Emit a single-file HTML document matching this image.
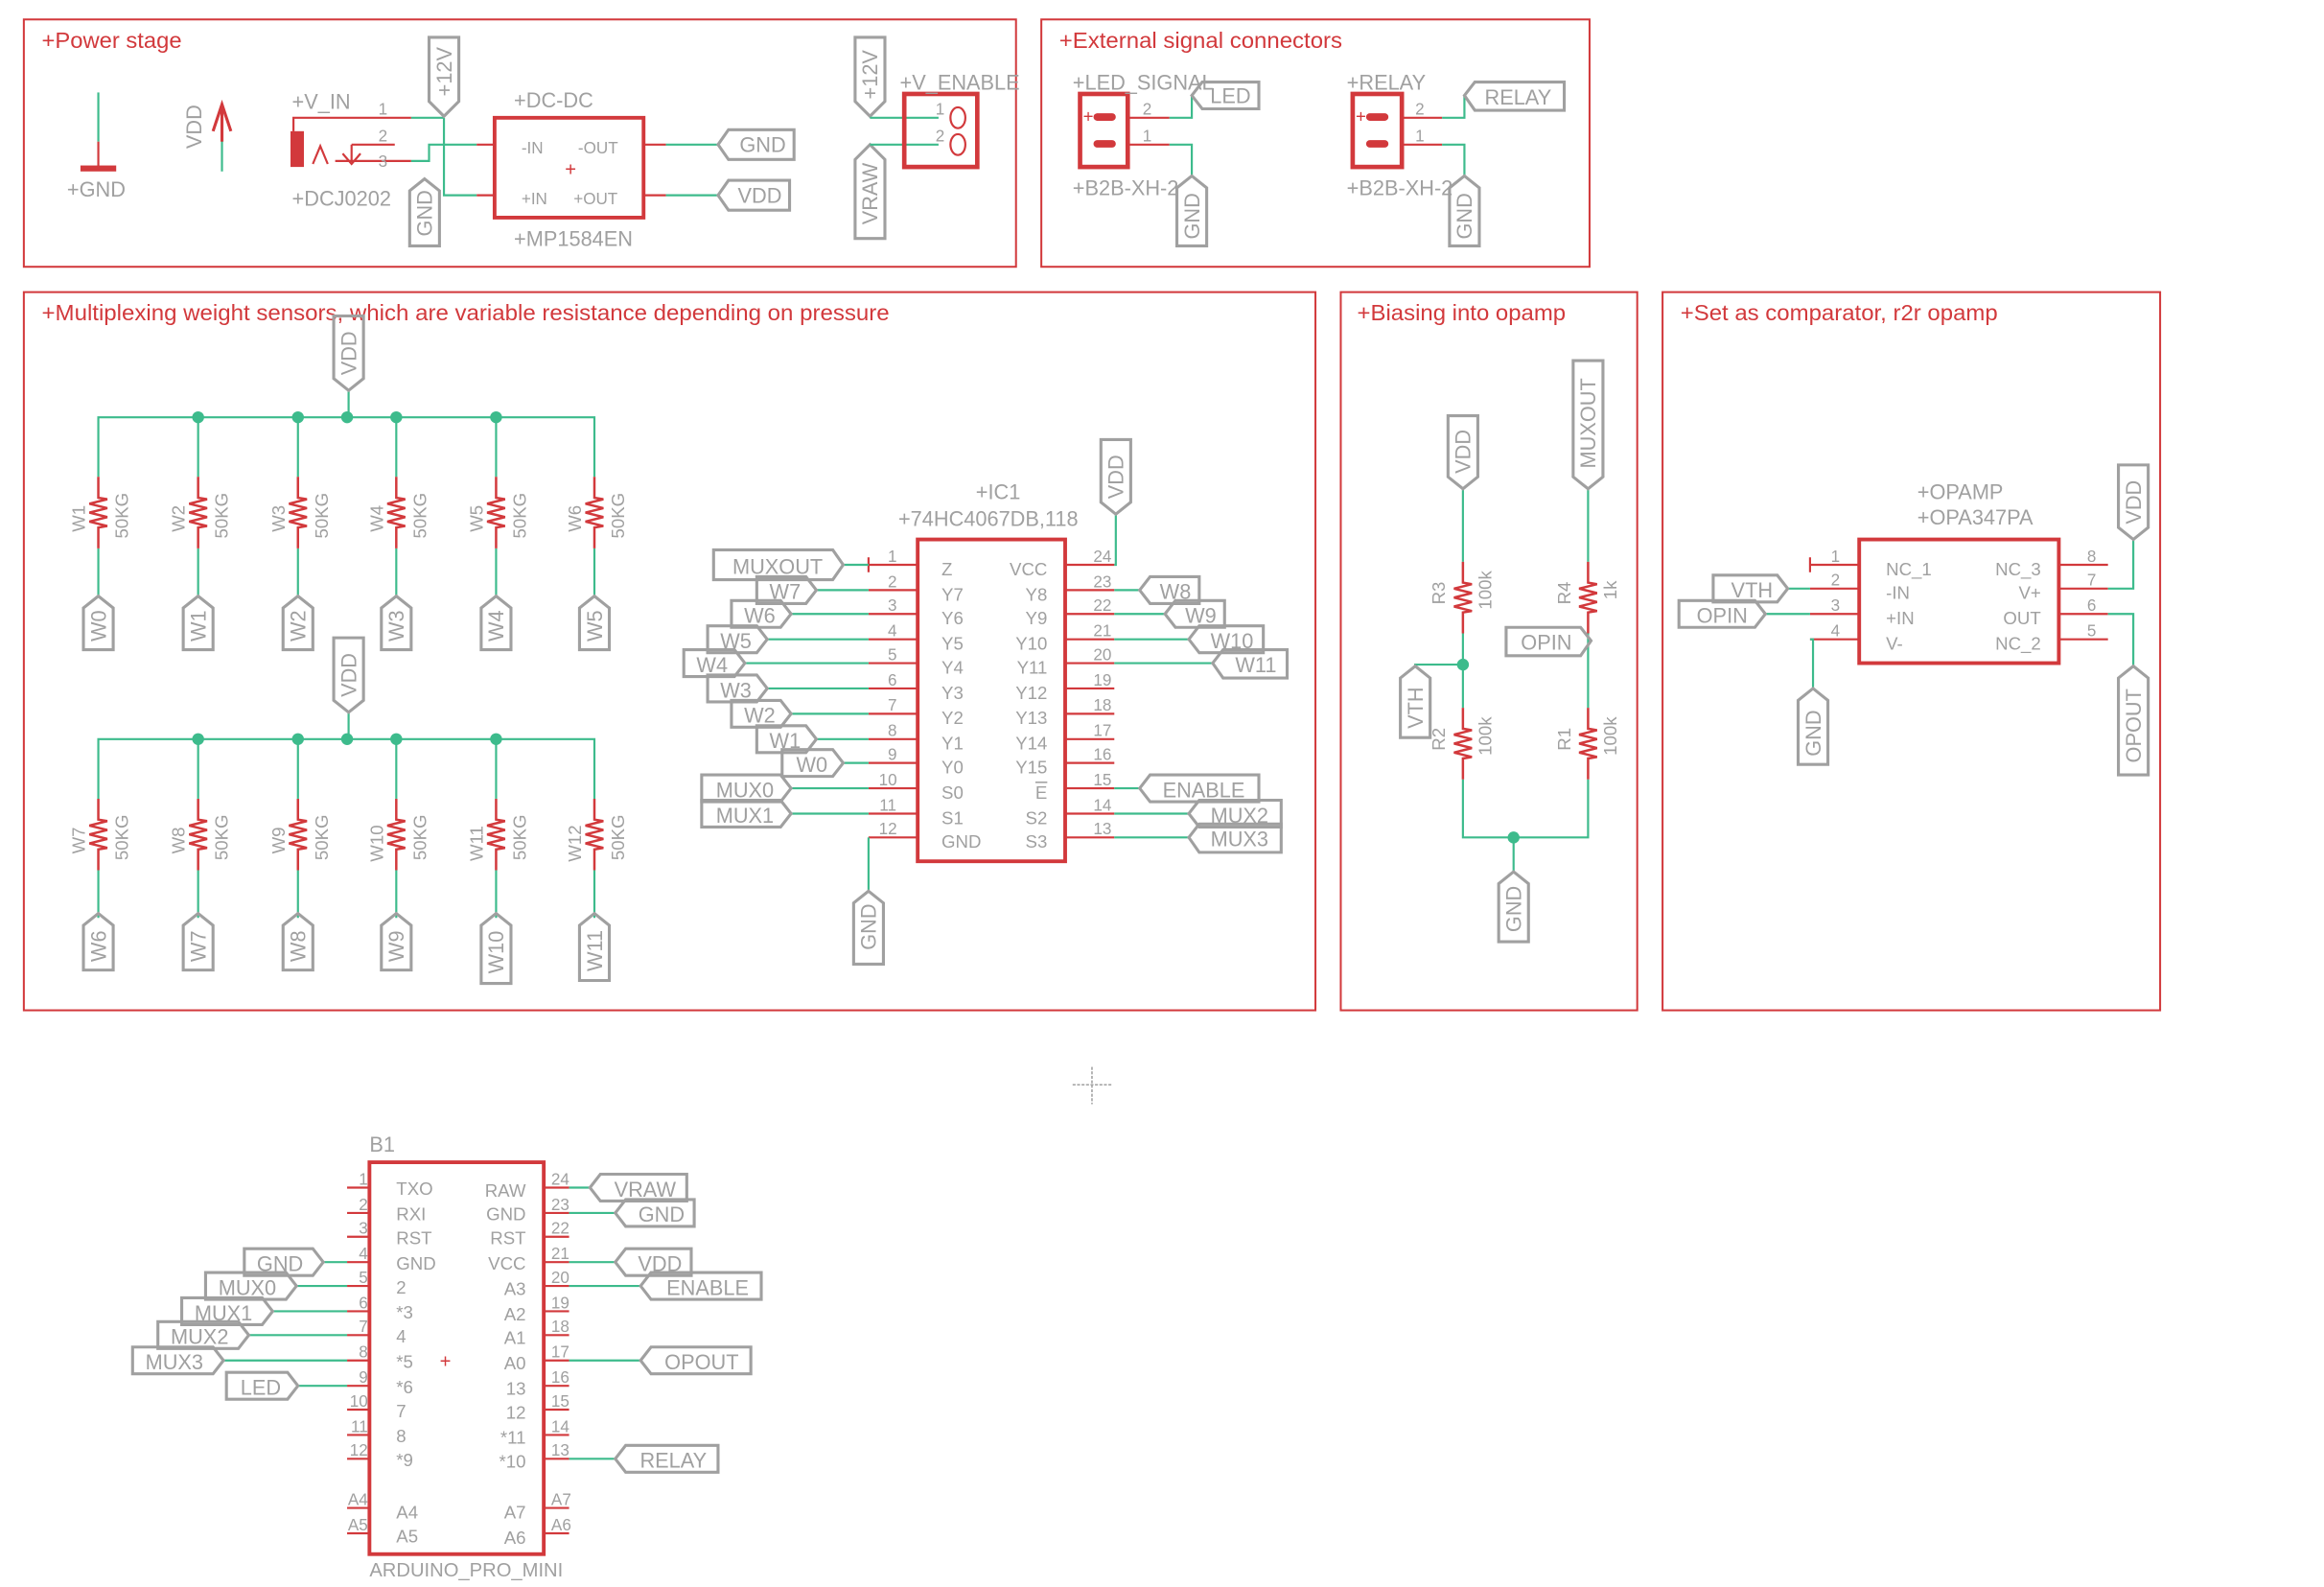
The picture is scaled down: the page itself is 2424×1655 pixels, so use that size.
<!DOCTYPE html>
<html><head><meta charset="utf-8"><style>
html,body{margin:0;padding:0;background:#fff}
svg{display:block}
text{font-family:"Liberation Sans Narrow","Liberation Sans",sans-serif}
.g{fill:#a0a0a0}
.r{fill:#d2393c}
</style></head><body>
<svg width="2424" height="1655" viewBox="0 0 1560 1065" xmlns="http://www.w3.org/2000/svg">
<defs>
<g id="rz"><polyline points="0,-24 0,-10 6,-9 -6,-6 6,-3 -6,0 6,3 -6,6 6,9 0,10 0,24" fill="none" stroke="#d2393c" stroke-width="1.6"/></g>
</defs>
<rect width="1560" height="1065" fill="#fff"/>
<g fill="none" stroke="#d2393c" stroke-width="1.3">
<rect x="16" y="13" width="666" height="166"/>
<rect x="699" y="13" width="368" height="166"/>
<rect x="16" y="196" width="867" height="482"/>
<rect x="900" y="196" width="199" height="482"/>
<rect x="1116" y="196" width="334" height="482"/>
</g>
<g class="r" font-size="15">
<text x="28" y="32" textLength="94" lengthAdjust="spacingAndGlyphs">+Power stage</text>
<text x="711" y="32" textLength="190" lengthAdjust="spacingAndGlyphs">+External signal connectors</text>
<text x="28" y="215" textLength="569" lengthAdjust="spacingAndGlyphs">+Multiplexing weight sensors, which are variable resistance depending on pressure</text>
<text x="911" y="215" textLength="140" lengthAdjust="spacingAndGlyphs">+Biasing into opamp</text>
<text x="1128" y="215" textLength="213" lengthAdjust="spacingAndGlyphs">+Set as comparator, r2r opamp</text>
</g>

<g stroke-width="1.4" fill="none">
<line x1="66" y1="62" x2="66" y2="95" stroke="#3dbb8c"/>
<line x1="66" y1="95" x2="66" y2="113" stroke="#d2393c"/>
<line x1="149" y1="90" x2="149" y2="115" stroke="#3dbb8c"/>
<polyline points="143,88 149,70 155,88" stroke="#d2393c" stroke-width="2"/>
<line x1="149" y1="70" x2="149" y2="95" stroke="#d2393c" stroke-width="2"/>
</g>
<rect x="54" y="111" width="24" height="4" fill="#d2393c"/>
<text x="45" y="132" class="g" font-size="14">+GND</text>
<text transform="translate(135,85) rotate(-90)" class="g" font-size="14" text-anchor="middle">VDD</text>

<rect x="195" y="88" width="9" height="24" fill="#d2393c"/>
<g fill="none" stroke-width="1.4">
<polyline points="197,88 197,79 276,79" stroke="#d2393c"/>
<line x1="276" y1="79" x2="298" y2="79" stroke="#3dbb8c"/>
<line x1="236" y1="97" x2="265" y2="97" stroke="#d2393c"/>
<polyline points="236,97 236,108" stroke="#d2393c"/>
<polyline points="230,103 236,110 242,103" stroke="#d2393c"/>
<polyline points="210,110 215,98 220,110" stroke="#d2393c"/>
<line x1="225" y1="108" x2="276" y2="108" stroke="#d2393c"/>
<polyline points="276,108 288,108 288,97 320,97" stroke="#3dbb8c"/>
<line x1="320" y1="97" x2="332" y2="97" stroke="#d2393c"/>
<polyline points="298,79 298,131 320,131" stroke="#3dbb8c"/>
<line x1="320" y1="131" x2="332" y2="131" stroke="#d2393c"/>
<line x1="432" y1="97" x2="447" y2="97" stroke="#d2393c"/>
<line x1="447" y1="97" x2="482" y2="97" stroke="#3dbb8c"/>
<line x1="432" y1="131" x2="447" y2="131" stroke="#d2393c"/>
<line x1="447" y1="131" x2="482" y2="131" stroke="#3dbb8c"/>
</g>
<g class="g" font-size="11"><text x="254" y="77">1</text><text x="254" y="95">2</text><text x="254" y="112">3</text></g>
<text x="196" y="73" class="g" font-size="14">+V_IN</text>
<text x="196" y="138" class="g" font-size="14">+DCJ0202</text>
<g fill="none" stroke="#a0a0a0" stroke-width="2">
<polygon points="298,78 308,68 308,25 288,25 288,68"/>
<polygon points="285,120 295,128 295,165 275,165 275,128"/>
<polygon points="482,97 489,87 533,87 533,107 489,107"/>
<polygon points="482,131 489,121 530,121 530,141 489,141"/>
<polygon points="584,78 594,68 594,25 574,25 574,68"/>
<polygon points="584,97 594,107 594,160 574,160 574,107"/>
</g>
<g class="g" font-size="14" text-anchor="middle">
<text transform="translate(303,48) rotate(-90)">+12V</text>
<text transform="translate(290,143) rotate(-90)">GND</text>
<text x="512" y="102">GND</text>
<text x="510" y="136">VDD</text>
<text transform="translate(589,50) rotate(-90)">+12V</text>
<text transform="translate(589,130) rotate(-90)">VRAW</text>
</g>
<rect x="332" y="79" width="100" height="67" fill="none" stroke="#d2393c" stroke-width="2.5"/>
<g class="g" font-size="11"><text x="350" y="103">-IN</text><text x="388" y="103">-OUT</text><text x="350" y="137">+IN</text><text x="385" y="137">+OUT</text></g>
<text x="383" y="118" class="r" font-size="13" text-anchor="middle">+</text>
<text x="345" y="72" class="g" font-size="14">+DC-DC</text>
<text x="345" y="165" class="g" font-size="14">+MP1584EN</text>
<g fill="none" stroke-width="1.4">
<line x1="584" y1="79" x2="630" y2="79" stroke="#3dbb8c"/>
<line x1="584" y1="97" x2="630" y2="97" stroke="#3dbb8c"/>
<rect x="607" y="63" width="49" height="49" stroke="#d2393c" stroke-width="3"/>
<ellipse cx="643" cy="79" rx="5" ry="7" stroke="#d2393c"/>
<ellipse cx="643" cy="97" rx="5" ry="7" stroke="#d2393c"/>
</g>
<g class="g" font-size="11"><text x="628" y="77">1</text><text x="628" y="95">2</text></g>
<text x="604" y="60" class="g" font-size="14">+V_ENABLE</text>

<g fill="none" stroke-width="1.4">
<rect x="725" y="63" width="32" height="49" stroke="#d2393c" stroke-width="3"/>
<line x1="757" y1="79" x2="785" y2="79" stroke="#d2393c"/>
<line x1="757" y1="97" x2="785" y2="97" stroke="#d2393c"/>
<polyline points="785,79 800,79 800,64" stroke="#3dbb8c"/>
<polyline points="785,97 800,97 800,118" stroke="#3dbb8c"/>
<rect x="908" y="63" width="33" height="49" stroke="#d2393c" stroke-width="3"/>
<line x1="941" y1="79" x2="968" y2="79" stroke="#d2393c"/>
<line x1="941" y1="97" x2="968" y2="97" stroke="#d2393c"/>
<polyline points="968,79 983,79 983,64" stroke="#3dbb8c"/>
<polyline points="968,97 983,97 983,118" stroke="#3dbb8c"/>
</g>
<g fill="#d2393c">
<rect x="734" y="76" width="15" height="5" rx="2.5"/><rect x="734" y="94" width="15" height="5" rx="2.5"/>
<rect x="917" y="76" width="15" height="5" rx="2.5"/><rect x="917" y="94" width="15" height="5" rx="2.5"/>
</g>
<g class="r" font-size="12"><text x="727" y="82">+</text><text x="910" y="82">+</text></g>
<g class="g" font-size="11"><text x="767" y="77">2</text><text x="767" y="95">1</text><text x="950" y="77">2</text><text x="950" y="95">1</text></g>
<g class="g" font-size="14">
<text x="720" y="60">+LED_SIGNAL</text><text x="720" y="131">+B2B-XH-2</text>
<text x="904" y="60">+RELAY</text><text x="904" y="131">+B2B-XH-2</text>
</g>
<g fill="none" stroke="#a0a0a0" stroke-width="2">
<polygon points="800,64 807,55 845,55 845,73 807,73"/>
<polygon points="800,118 810,126 810,165 790,165 790,126"/>
<polygon points="983,64 990,55 1050,55 1050,74 990,74"/>
<polygon points="983,118 993,126 993,165 973,165 973,126"/>
</g>
<g class="g" font-size="14" text-anchor="middle">
<text x="826" y="69">LED</text>
<text transform="translate(805,145) rotate(-90)">GND</text>
<text x="1019" y="70">RELAY</text>
<text transform="translate(988,145) rotate(-90)">GND</text>
</g>

<g fill="none" stroke="#3dbb8c" stroke-width="1.4">
<polyline points="66,320 66,280 399,280 399,320"/>
<line x1="234" y1="262" x2="234" y2="280"/>
<line x1="133" y1="280" x2="133" y2="320"/><line x1="200" y1="280" x2="200" y2="320"/><line x1="266" y1="280" x2="266" y2="320"/><line x1="333" y1="280" x2="333" y2="320"/>
<line x1="66" y1="368" x2="66" y2="400"/><line x1="133" y1="368" x2="133" y2="400"/><line x1="200" y1="368" x2="200" y2="400"/><line x1="266" y1="368" x2="266" y2="400"/><line x1="333" y1="368" x2="333" y2="400"/><line x1="399" y1="368" x2="399" y2="400"/>
<polyline points="66,536 66,496 399,496 399,536"/>
<line x1="234" y1="478" x2="234" y2="496"/>
<line x1="133" y1="496" x2="133" y2="536"/><line x1="200" y1="496" x2="200" y2="536"/><line x1="266" y1="496" x2="266" y2="536"/><line x1="333" y1="496" x2="333" y2="536"/>
<line x1="66" y1="584" x2="66" y2="616"/><line x1="133" y1="584" x2="133" y2="616"/><line x1="200" y1="584" x2="200" y2="616"/><line x1="266" y1="584" x2="266" y2="616"/><line x1="333" y1="584" x2="333" y2="616"/><line x1="399" y1="584" x2="399" y2="616"/>
</g>
<g fill="#3dbb8c">
<circle cx="133" cy="280" r="4"/><circle cx="200" cy="280" r="4"/><circle cx="233" cy="280" r="4"/><circle cx="266" cy="280" r="4"/><circle cx="333" cy="280" r="4"/>
<circle cx="133" cy="496" r="4"/><circle cx="200" cy="496" r="4"/><circle cx="233" cy="496" r="4"/><circle cx="266" cy="496" r="4"/><circle cx="333" cy="496" r="4"/>
</g>
<use href="#rz" x="66" y="344"/><use href="#rz" x="133" y="344"/><use href="#rz" x="200" y="344"/><use href="#rz" x="266" y="344"/><use href="#rz" x="333" y="344"/><use href="#rz" x="399" y="344"/>
<use href="#rz" x="66" y="560"/><use href="#rz" x="133" y="560"/><use href="#rz" x="200" y="560"/><use href="#rz" x="266" y="560"/><use href="#rz" x="333" y="560"/><use href="#rz" x="399" y="560"/>
<g class="g" font-size="12" text-anchor="middle">
<text transform="translate(57,348) rotate(-90)">W1</text><text transform="translate(86,346) rotate(-90)">50KG</text>
<text transform="translate(124,348) rotate(-90)">W2</text><text transform="translate(153,346) rotate(-90)">50KG</text>
<text transform="translate(191,348) rotate(-90)">W3</text><text transform="translate(220,346) rotate(-90)">50KG</text>
<text transform="translate(257,348) rotate(-90)">W4</text><text transform="translate(286,346) rotate(-90)">50KG</text>
<text transform="translate(324,348) rotate(-90)">W5</text><text transform="translate(353,346) rotate(-90)">50KG</text>
<text transform="translate(390,348) rotate(-90)">W6</text><text transform="translate(419,346) rotate(-90)">50KG</text>
<text transform="translate(57,564) rotate(-90)">W7</text><text transform="translate(86,562) rotate(-90)">50KG</text>
<text transform="translate(124,564) rotate(-90)">W8</text><text transform="translate(153,562) rotate(-90)">50KG</text>
<text transform="translate(191,564) rotate(-90)">W9</text><text transform="translate(220,562) rotate(-90)">50KG</text>
<text transform="translate(257,566) rotate(-90)">W10</text><text transform="translate(286,562) rotate(-90)">50KG</text>
<text transform="translate(324,566) rotate(-90)">W11</text><text transform="translate(353,562) rotate(-90)">50KG</text>
<text transform="translate(390,566) rotate(-90)">W12</text><text transform="translate(419,562) rotate(-90)">50KG</text>
</g>
<g fill="none" stroke="#a0a0a0" stroke-width="2">
<polygon points="234,262 244,254 244,212 224,212 224,254"/>
<polygon points="234,478 244,470 244,428 224,428 224,470"/>
<polygon points="66,400 76,408 76,436 56,436 56,408"/><polygon points="133,400 143,408 143,436 123,436 123,408"/><polygon points="200,400 210,408 210,436 190,436 190,408"/><polygon points="266,400 276,408 276,436 256,436 256,408"/><polygon points="333,400 343,408 343,436 323,436 323,408"/><polygon points="399,400 409,408 409,436 389,436 389,408"/>
<polygon points="66,613 76,621 76,651 56,651 56,621"/><polygon points="133,613 143,621 143,651 123,651 123,621"/><polygon points="200,613 210,621 210,651 190,651 190,621"/><polygon points="266,613 276,621 276,651 256,651 256,621"/><polygon points="333,613 343,621 343,660 323,660 323,621"/><polygon points="399,613 409,621 409,658 389,658 389,621"/>
</g>
<g class="g" font-size="14" text-anchor="middle">
<text transform="translate(239,237) rotate(-90)">VDD</text>
<text transform="translate(239,453) rotate(-90)">VDD</text>
<text transform="translate(71,420) rotate(-90)">W0</text><text transform="translate(138,420) rotate(-90)">W1</text><text transform="translate(205,420) rotate(-90)">W2</text><text transform="translate(271,420) rotate(-90)">W3</text><text transform="translate(338,420) rotate(-90)">W4</text><text transform="translate(404,420) rotate(-90)">W5</text>
<text transform="translate(71,635) rotate(-90)">W6</text><text transform="translate(138,635) rotate(-90)">W7</text><text transform="translate(205,635) rotate(-90)">W8</text><text transform="translate(271,635) rotate(-90)">W9</text><text transform="translate(338,639) rotate(-90)">W10</text><text transform="translate(404,638) rotate(-90)">W11</text>
</g>

<rect x="616" y="362" width="99" height="216" fill="none" stroke="#d2393c" stroke-width="2.5"/>
<g stroke="#d2393c" stroke-width="1.4">
<line x1="583" y1="379" x2="616" y2="379"/><line x1="583" y1="396" x2="616" y2="396"/><line x1="583" y1="412" x2="616" y2="412"/><line x1="583" y1="429" x2="616" y2="429"/><line x1="583" y1="445" x2="616" y2="445"/><line x1="583" y1="462" x2="616" y2="462"/><line x1="583" y1="479" x2="616" y2="479"/><line x1="583" y1="496" x2="616" y2="496"/><line x1="583" y1="512" x2="616" y2="512"/><line x1="583" y1="529" x2="616" y2="529"/><line x1="583" y1="546" x2="616" y2="546"/><line x1="583" y1="562" x2="616" y2="562"/>
<line x1="715" y1="379" x2="748" y2="379"/><line x1="715" y1="396" x2="748" y2="396"/><line x1="715" y1="412" x2="748" y2="412"/><line x1="715" y1="429" x2="748" y2="429"/><line x1="715" y1="445" x2="748" y2="445"/><line x1="715" y1="462" x2="748" y2="462"/><line x1="715" y1="479" x2="748" y2="479"/><line x1="715" y1="496" x2="748" y2="496"/><line x1="715" y1="512" x2="748" y2="512"/><line x1="715" y1="529" x2="748" y2="529"/><line x1="715" y1="546" x2="748" y2="546"/><line x1="715" y1="562" x2="748" y2="562"/>
<line x1="583" y1="374" x2="583" y2="384"/>
</g>
<g fill="none" stroke="#3dbb8c" stroke-width="1.4">
<line x1="566" y1="379" x2="583" y2="379"/>
<line x1="548" y1="396" x2="583" y2="396"/><line x1="531" y1="412" x2="583" y2="412"/><line x1="515" y1="429" x2="583" y2="429"/><line x1="500" y1="445" x2="583" y2="445"/><line x1="515" y1="462" x2="583" y2="462"/><line x1="531" y1="479" x2="583" y2="479"/><line x1="548" y1="496" x2="583" y2="496"/><line x1="566" y1="512" x2="583" y2="512"/><line x1="531" y1="529" x2="583" y2="529"/><line x1="531" y1="546" x2="583" y2="546"/>
<polyline points="583,562 583,598"/>
<polyline points="749,345 749,379 748,379"/>
<line x1="748" y1="396" x2="765" y2="396"/><line x1="748" y1="412" x2="782" y2="412"/><line x1="748" y1="429" x2="798" y2="429"/><line x1="748" y1="445" x2="814" y2="445"/><line x1="748" y1="529" x2="765" y2="529"/><line x1="748" y1="546" x2="798" y2="546"/><line x1="748" y1="562" x2="798" y2="562"/>
</g>
<g class="g" font-size="11" text-anchor="middle">
<text x="599" y="377">1</text><text x="599" y="394">2</text><text x="599" y="410">3</text><text x="599" y="427">4</text><text x="599" y="443">5</text><text x="599" y="460">6</text><text x="599" y="477">7</text><text x="599" y="494">8</text><text x="599" y="510">9</text><text x="596" y="527">10</text><text x="596" y="544">11</text><text x="596" y="560">12</text>
<text x="740" y="377">24</text><text x="740" y="394">23</text><text x="740" y="410">22</text><text x="740" y="427">21</text><text x="740" y="443">20</text><text x="740" y="460">19</text><text x="740" y="477">18</text><text x="740" y="494">17</text><text x="740" y="510">16</text><text x="740" y="527">15</text><text x="740" y="544">14</text><text x="740" y="560">13</text>
</g>
<g class="g" font-size="12">
<text x="632" y="386">Z</text><text x="632" y="403">Y7</text><text x="632" y="419">Y6</text><text x="632" y="436">Y5</text><text x="632" y="452">Y4</text><text x="632" y="469">Y3</text><text x="632" y="486">Y2</text><text x="632" y="503">Y1</text><text x="632" y="519">Y0</text><text x="632" y="536">S0</text><text x="632" y="553">S1</text><text x="632" y="569">GND</text>
</g>
<g class="g" font-size="12" text-anchor="end">
<text x="703" y="386">VCC</text><text x="703" y="403">Y8</text><text x="703" y="419">Y9</text><text x="703" y="436">Y10</text><text x="703" y="452">Y11</text><text x="703" y="469">Y12</text><text x="703" y="486">Y13</text><text x="703" y="503">Y14</text><text x="703" y="519">Y15</text><text x="703" y="536">E</text><text x="703" y="553">S2</text><text x="703" y="569">S3</text>
</g>
<line x1="695" y1="525" x2="703" y2="525" stroke="#a0a0a0" stroke-width="1"/>
<text x="655" y="335" class="g" font-size="14">+IC1</text>
<text x="603" y="353" class="g" font-size="14">+74HC4067DB,118</text>
<g fill="none" stroke="#a0a0a0" stroke-width="2">
<polygon points="566,379 559,369 479,369 479,389 559,389"/>
<polygon points="548,396 541,387 508,387 508,405 541,405"/>
<polygon points="531,412 524,403 491,403 491,421 524,421"/>
<polygon points="515,429 508,420 475,420 475,438 508,438"/>
<polygon points="500,445 493,436 459,436 459,454 493,454"/>
<polygon points="515,462 508,453 475,453 475,471 508,471"/>
<polygon points="531,479 524,470 491,470 491,488 524,488"/>
<polygon points="548,496 541,487 508,487 508,505 541,505"/>
<polygon points="566,512 559,503 525,503 525,521 559,521"/>
<polygon points="531,529 524,520 471,520 471,538 524,538"/>
<polygon points="531,546 524,537 471,537 471,555 524,555"/>
<polygon points="749,345 759,337 759,295 739,295 739,337"/>
<polygon points="583,598 593,606 593,647 573,647 573,606"/>
<polygon points="765,396 772,387 805,387 805,405 772,405"/>
<polygon points="782,412 789,403 822,403 822,421 789,421"/>
<polygon points="798,429 805,420 848,420 848,438 805,438"/>
<polygon points="814,445 821,436 864,436 864,455 821,455"/>
<polygon points="765,529 772,520 845,520 845,538 772,538"/>
<polygon points="798,546 805,537 860,537 860,555 805,555"/>
<polygon points="798,562 805,553 860,553 860,572 805,572"/>
</g>
<g class="g" font-size="14" text-anchor="middle">
<text x="522" y="385">MUXOUT</text><text x="527" y="402">W7</text><text x="510" y="418">W6</text><text x="494" y="435">W5</text><text x="478" y="451">W4</text><text x="494" y="468">W3</text><text x="510" y="485">W2</text><text x="527" y="502">W1</text><text x="545" y="518">W0</text><text x="500" y="535">MUX0</text><text x="500" y="552">MUX1</text>
<text transform="translate(754,320) rotate(-90)">VDD</text>
<text transform="translate(588,622) rotate(-90)">GND</text>
<text x="789" y="402">W8</text><text x="806" y="418">W9</text><text x="827" y="435">W10</text><text x="843" y="451">W11</text><text x="808" y="535">ENABLE</text><text x="832" y="552">MUX2</text><text x="832" y="568">MUX3</text>
</g>

<g fill="none" stroke="#3dbb8c" stroke-width="1.4">
<line x1="982" y1="328" x2="982" y2="377"/>
<line x1="982" y1="425" x2="982" y2="475"/>
<polyline points="982,523 982,562 1066,562 1066,523"/>
<line x1="1066" y1="328" x2="1066" y2="377"/>
<line x1="1066" y1="425" x2="1066" y2="475"/>
<polyline points="950,447 950,446 982,446"/>
<line x1="1016" y1="562" x2="1016" y2="585"/>
</g>
<g fill="#3dbb8c"><circle cx="982" cy="446" r="4"/><circle cx="1016" cy="562" r="4"/></g>
<use href="#rz" x="982" y="401"/><use href="#rz" x="982" y="499"/><use href="#rz" x="1066" y="401"/><use href="#rz" x="1066" y="499"/>
<g class="g" font-size="12" text-anchor="middle">
<text transform="translate(970,398) rotate(-90)">R3</text><text transform="translate(1001,396) rotate(-90)">100k</text>
<text transform="translate(970,496) rotate(-90)">R2</text><text transform="translate(1001,494) rotate(-90)">100k</text>
<text transform="translate(1054,398) rotate(-90)">R4</text><text transform="translate(1085,396) rotate(-90)">1k</text>
<text transform="translate(1054,496) rotate(-90)">R1</text><text transform="translate(1085,494) rotate(-90)">100k</text>
</g>
<g fill="none" stroke="#a0a0a0" stroke-width="2">
<polygon points="982,328 992,320 992,279 972,279 972,320"/>
<polygon points="1066,328 1076,320 1076,242 1056,242 1056,320"/>
<polygon points="1068,430 1061,421 1011,421 1011,440 1061,440"/>
<polygon points="950,447 960,455 960,495 940,495 940,455"/>
<polygon points="1016,585 1026,593 1026,632 1006,632 1006,593"/>
</g>
<g class="g" font-size="14" text-anchor="middle">
<text transform="translate(987,303) rotate(-90)">VDD</text>
<text transform="translate(1071,284) rotate(-90)">MUXOUT</text>
<text x="1038" y="436">OPIN</text>
<text transform="translate(955,475) rotate(-90)">VTH</text>
<text transform="translate(1021,610) rotate(-90)">GND</text>
</g>

<rect x="1248" y="362" width="134" height="83" fill="none" stroke="#d2393c" stroke-width="2.5"/>
<g stroke="#d2393c" stroke-width="1.4">
<line x1="1215" y1="379" x2="1248" y2="379"/><line x1="1215" y1="395" x2="1248" y2="395"/><line x1="1215" y1="412" x2="1248" y2="412"/><line x1="1215" y1="429" x2="1248" y2="429"/>
<line x1="1382" y1="379" x2="1415" y2="379"/><line x1="1382" y1="395" x2="1415" y2="395"/><line x1="1382" y1="412" x2="1415" y2="412"/><line x1="1382" y1="429" x2="1415" y2="429"/>
<line x1="1215" y1="374" x2="1215" y2="384"/>
</g>
<g fill="none" stroke="#3dbb8c" stroke-width="1.4">
<line x1="1200" y1="395" x2="1215" y2="395"/>
<line x1="1185" y1="412" x2="1215" y2="412"/>
<polyline points="1215,429 1217,429 1217,462"/>
<polyline points="1415,395 1432,395 1432,362"/>
<polyline points="1415,412 1432,412 1432,447"/>
</g>
<g class="g" font-size="11" text-anchor="middle">
<text x="1232" y="377">1</text><text x="1232" y="393">2</text><text x="1232" y="410">3</text><text x="1232" y="427">4</text>
<text x="1404" y="377">8</text><text x="1404" y="393">7</text><text x="1404" y="410">6</text><text x="1404" y="427">5</text>
</g>
<g class="g" font-size="12">
<text x="1266" y="386">NC_1</text><text x="1266" y="402">-IN</text><text x="1266" y="419">+IN</text><text x="1266" y="436">V-</text>
</g>
<g class="g" font-size="12" text-anchor="end">
<text x="1370" y="386">NC_3</text><text x="1370" y="402">V+</text><text x="1370" y="419">OUT</text><text x="1370" y="436">NC_2</text>
</g>
<text x="1287" y="335" class="g" font-size="14">+OPAMP</text>
<text x="1287" y="352" class="g" font-size="14">+OPA347PA</text>
<g fill="none" stroke="#a0a0a0" stroke-width="2">
<polygon points="1200,395 1193,386 1150,386 1150,404 1193,404"/>
<polygon points="1185,412 1178,403 1127,403 1127,421 1178,421"/>
<polygon points="1217,462 1227,470 1227,513 1207,513 1207,470"/>
<polygon points="1432,362 1442,354 1442,312 1422,312 1422,354"/>
<polygon points="1432,447 1442,455 1442,520 1422,520 1422,455"/>
</g>
<g class="g" font-size="14" text-anchor="middle">
<text x="1176" y="401">VTH</text>
<text x="1156" y="418">OPIN</text>
<text transform="translate(1222,492) rotate(-90)">GND</text>
<text transform="translate(1437,337) rotate(-90)">VDD</text>
<text transform="translate(1437,487) rotate(-90)">OPOUT</text>
</g>

<g stroke="#a0a0a0" stroke-width="1"><line x1="720" y1="728" x2="746" y2="728" stroke-dasharray="2,1"/><line x1="733" y1="716" x2="733" y2="741" stroke-dasharray="2,1"/></g>

<rect x="248" y="780" width="117" height="263" fill="none" stroke="#d2393c" stroke-width="2.5"/>
<g stroke="#d2393c" stroke-width="1.4">
<line x1="233" y1="797" x2="248" y2="797"/><line x1="233" y1="814" x2="248" y2="814"/><line x1="233" y1="830" x2="248" y2="830"/><line x1="233" y1="847" x2="248" y2="847"/><line x1="233" y1="863" x2="248" y2="863"/><line x1="233" y1="880" x2="248" y2="880"/><line x1="233" y1="896" x2="248" y2="896"/><line x1="233" y1="913" x2="248" y2="913"/><line x1="233" y1="930" x2="248" y2="930"/><line x1="233" y1="946" x2="248" y2="946"/><line x1="233" y1="963" x2="248" y2="963"/><line x1="233" y1="979" x2="248" y2="979"/><line x1="233" y1="1012" x2="248" y2="1012"/><line x1="233" y1="1029" x2="248" y2="1029"/>
<line x1="365" y1="797" x2="382" y2="797"/><line x1="365" y1="814" x2="382" y2="814"/><line x1="365" y1="830" x2="382" y2="830"/><line x1="365" y1="847" x2="382" y2="847"/><line x1="365" y1="863" x2="382" y2="863"/><line x1="365" y1="880" x2="382" y2="880"/><line x1="365" y1="896" x2="382" y2="896"/><line x1="365" y1="913" x2="382" y2="913"/><line x1="365" y1="930" x2="382" y2="930"/><line x1="365" y1="946" x2="382" y2="946"/><line x1="365" y1="963" x2="382" y2="963"/><line x1="365" y1="979" x2="382" y2="979"/><line x1="365" y1="1012" x2="382" y2="1012"/><line x1="365" y1="1029" x2="382" y2="1029"/>
</g>
<g fill="none" stroke="#3dbb8c" stroke-width="1.4">
<line x1="217" y1="847" x2="233" y2="847"/><line x1="199" y1="863" x2="233" y2="863"/><line x1="183" y1="880" x2="233" y2="880"/><line x1="167" y1="896" x2="233" y2="896"/><line x1="150" y1="913" x2="233" y2="913"/><line x1="200" y1="930" x2="233" y2="930"/>
<line x1="382" y1="797" x2="396" y2="797"/><line x1="382" y1="814" x2="413" y2="814"/><line x1="382" y1="847" x2="413" y2="847"/><line x1="382" y1="863" x2="430" y2="863"/><line x1="382" y1="913" x2="430" y2="913"/><line x1="382" y1="979" x2="413" y2="979"/>
</g>
<g class="g" font-size="11" text-anchor="end">
<text x="247" y="795">1</text><text x="247" y="812">2</text><text x="247" y="828">3</text><text x="247" y="845">4</text><text x="247" y="861">5</text><text x="247" y="878">6</text><text x="247" y="894">7</text><text x="247" y="911">8</text><text x="247" y="928">9</text><text x="247" y="944">10</text><text x="247" y="961">11</text><text x="247" y="977">12</text><text x="247" y="1010">A4</text><text x="247" y="1027">A5</text>
</g>
<g class="g" font-size="11">
<text x="370" y="795">24</text><text x="370" y="812">23</text><text x="370" y="828">22</text><text x="370" y="845">21</text><text x="370" y="861">20</text><text x="370" y="878">19</text><text x="370" y="894">18</text><text x="370" y="911">17</text><text x="370" y="928">16</text><text x="370" y="944">15</text><text x="370" y="961">14</text><text x="370" y="977">13</text><text x="370" y="1010">A7</text><text x="370" y="1027">A6</text>
</g>
<g class="g" font-size="12">
<text x="266" y="802">TXO</text><text x="266" y="819">RXI</text><text x="266" y="835">RST</text><text x="266" y="852">GND</text><text x="266" y="868">2</text><text x="266" y="885">*3</text><text x="266" y="901">4</text><text x="266" y="918">*5</text><text x="266" y="935">*6</text><text x="266" y="951">7</text><text x="266" y="968">8</text><text x="266" y="984">*9</text><text x="266" y="1019">A4</text><text x="266" y="1035">A5</text>
</g>
<g class="g" font-size="12" text-anchor="end">
<text x="353" y="803">RAW</text><text x="353" y="819">GND</text><text x="353" y="835">RST</text><text x="353" y="852">VCC</text><text x="353" y="869">A3</text><text x="353" y="886">A2</text><text x="353" y="902">A1</text><text x="353" y="919">A0</text><text x="353" y="936">13</text><text x="353" y="952">12</text><text x="353" y="969">*11</text><text x="353" y="985">*10</text><text x="353" y="1019">A7</text><text x="353" y="1036">A6</text>
</g>
<text x="299" y="918" class="r" font-size="13" text-anchor="middle">+</text>
<text x="248" y="773" class="g" font-size="14">B1</text>
<text x="248" y="1058" class="g" font-size="13" font-family="Liberation Mono, monospace">ARDUINO_PRO_MINI</text>
<g fill="none" stroke="#a0a0a0" stroke-width="2">
<polygon points="217,847 210,838 164,838 164,856 210,856"/>
<polygon points="199,863 192,854 138,854 138,872 192,872"/>
<polygon points="183,880 176,871 122,871 122,889 176,889"/>
<polygon points="167,896 160,887 106,887 106,905 160,905"/>
<polygon points="150,913 143,904 89,904 89,922 143,922"/>
<polygon points="200,930 193,921 152,921 152,939 193,939"/>
<polygon points="396,797 403,788 461,788 461,806 403,806"/>
<polygon points="413,814 420,805 466,805 466,823 420,823"/>
<polygon points="413,847 420,838 464,838 464,856 420,856"/>
<polygon points="430,863 437,854 511,854 511,872 437,872"/>
<polygon points="430,913 437,904 504,904 504,922 437,922"/>
<polygon points="413,979 420,970 482,970 482,988 420,988"/>
</g>
<g class="g" font-size="14" text-anchor="middle">
<text x="188" y="853">GND</text><text x="166" y="869">MUX0</text><text x="150" y="886">MUX1</text><text x="134" y="902">MUX2</text><text x="117" y="919">MUX3</text><text x="175" y="936">LED</text>
<text x="433" y="803">VRAW</text><text x="444" y="820">GND</text><text x="443" y="853">VDD</text><text x="475" y="869">ENABLE</text><text x="471" y="919">OPOUT</text><text x="452" y="985">RELAY</text>
</g>
</svg>
</body></html>
